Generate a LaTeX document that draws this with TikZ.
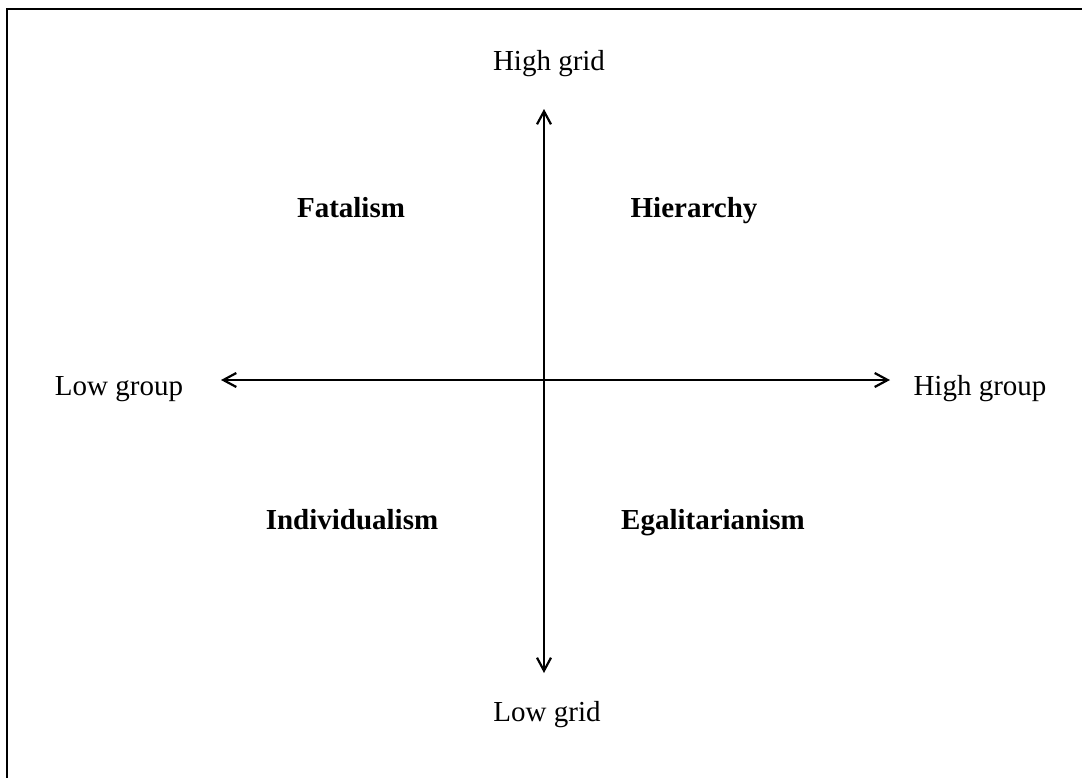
\documentclass[tikz,border=0pt]{standalone}
\usepackage{fontspec}
\setmainfont{Liberation Serif}
\usetikzlibrary{arrows.meta}
\tikzset{
  axislabel/.style={font=\fontsize{14.5}{17}\selectfont, inner sep=0pt, anchor=base},
  quadlabel/.style={axislabel, font=\fontsize{14.5}{17}\selectfont\bfseries},
  axisline/.style={line width=1.1pt, {Straight Barb[length=6.5pt, width=7pt]}-{Straight Barb[length=6.5pt, width=7pt]}},
  frameline/.style={line width=1.4pt},
}

\begin{document}
\begin{tikzpicture}[x=0.5pt, y=-0.5pt]
    \useasboundingbox (0,0) rectangle (1082,778);
    \draw[frameline] (1082,9) -- (7,9) -- (7,778);
    % axis ends
    \coordinate (gridtop) at (544,109);
    \coordinate (gridbot) at (544,673);
    \coordinate (grouplo) at (221,380);
    \coordinate (grouphi) at (890,380);
    \draw[axisline] (gridbot) -- (gridtop);
    \draw[axisline] (grouplo) -- (grouphi);
    % axis labels
    \node[axislabel] (highgrid) at (549,70) {High grid};
    \node[axislabel] (lowgrid) at (547,721) {Low grid};
    \node[axislabel] (lowgroup) at (119,395) {Low group};
    \node[axislabel] (highgroup) at (980,395) {High group};
    % quadrants
    \node[quadlabel] (fatalism) at (351,217) {Fatalism};
    \node[quadlabel] (hierarchy) at (694,217) {Hierarchy};
    \node[quadlabel] (individualism) at (352,529) {Individualism};
    \node[quadlabel] (egalitarianism) at (713,529) {Egalitarianism};
  \end{tikzpicture}
\end{document}
